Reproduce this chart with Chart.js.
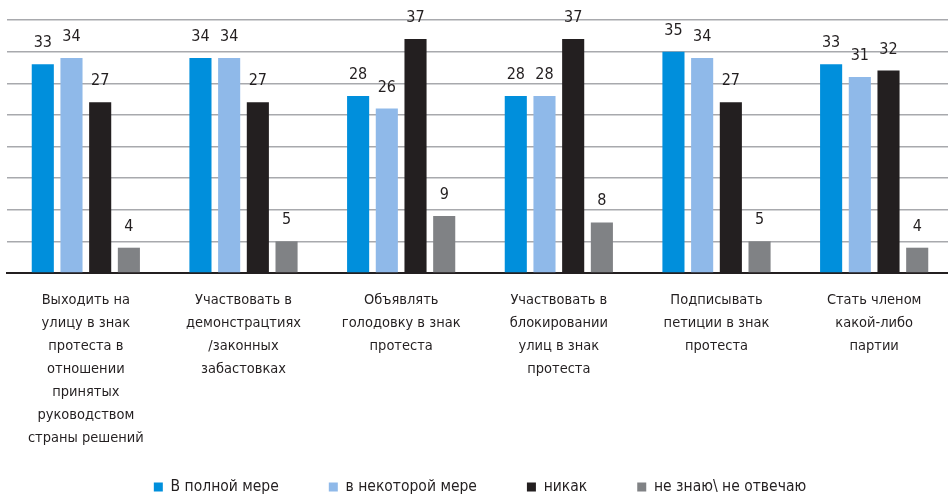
<!DOCTYPE html>
<html>
<head>
<meta charset="utf-8">
<script src="https://cdn.jsdelivr.net/npm/chart.js@4/dist/chart.umd.min.js"></script>
<style>
  html, body { margin: 0; padding: 0; background: #ffffff; overflow: hidden; }
  #wrap { position: relative; width: 953px; height: 498px; }
</style>
</head>
<body>
<div id="wrap"><canvas id="c"></canvas></div>
<script>
const categories = [
  ["Выходить на", "улицу в знак", "протеста в", "отношении", "принятых", "руководством", "страны решений"],
  ["Участвовать в", "демонстрацтиях", "/законных", "забастовках"],
  ["Объявлять", "голодовку в знак", "протеста"],
  ["Участвовать в", "блокировании", "улиц в знак", "протеста"],
  ["Подписывать", "петиции в знак", "протеста"],
  ["Стать членом", "какой-либо", "партии"]
];
const seriesNames = ["В полной мере", "в некоторой мере", "никак", "не знаю\\ не отвечаю"];
const fullyValues = [33, 34, 28, 28, 35, 33];
const somewhatValues = [34, 34, 26, 28, 34, 31];
const notAtAllValues = [27, 27, 37, 37, 27, 32];
const dontKnowValues = [4, 5, 9, 8, 5, 4];
const yTicks = [0, 5, 10, 15, 20, 25, 30, 35, 40];

const FONT = "'DejaVu Sans Condensed', 'Liberation Sans Narrow', 'Roboto', sans-serif";
const TEXT = '#231f20';
const colors = ['#008fdc', '#8fb9e9', '#231f20', '#808285'];

const LEGEND_PAD = 50;
const LEGEND_H = 48;
const LEGEND_ITEM_TOP = 479.25;
const XAXIS_H = 177;

const valueLabels = {
  id: 'valueLabels',
  afterDatasetsDraw(chart) {
    const ctx = chart.ctx;
    ctx.save();
    ctx.font = '16px ' + FONT;
    ctx.fillStyle = TEXT;
    ctx.textAlign = 'center';
    ctx.textBaseline = 'alphabetic';
    chart.data.datasets.forEach((ds, i) => {
      const meta = chart.getDatasetMeta(i);
      meta.data.forEach((el, j) => {
        ctx.fillText(String(ds.data[j]), el.x, el.y - 17);
      });
    });
    ctx.restore();
  }
};

const legendPlace = {
  id: 'legendPlace',
  beforeUpdate(chart) {
    const lg = chart.legend;
    if (lg && !lg._patched) {
      const orig = lg.fit.bind(lg);
      lg.fit = function () { orig(); this.height = LEGEND_H; };
      lg._patched = true;
    }
  },
  afterLayout(chart) {
    const lg = chart.legend;
    if (lg) {
      lg.top = LEGEND_ITEM_TOP - LEGEND_PAD;
      lg.height = lg.bottom - lg.top;
    }
  }
};

const values = [fullyValues, somewhatValues, notAtAllValues, dontKnowValues];
new Chart(document.getElementById('c'), {
  type: 'bar',
  data: {
    labels: categories,
    datasets: seriesNames.map((n, i) => ({
      label: n,
      data: values[i],
      backgroundColor: colors[i],
      borderWidth: 0,
      barPercentage: 0.77,
      categoryPercentage: 0.728
    }))
  },
  options: {
    responsive: true,
    maintainAspectRatio: false,
    animation: false,
    layout: { padding: { left: 7, right: 0, top: 20, bottom: 0 } },
    plugins: {
      legend: {
        position: 'bottom',
        labels: {
          boxWidth: 9, boxHeight: 9, padding: LEGEND_PAD,
          color: TEXT,
          font: { family: FONT, size: 15.5 }
        }
      },
      tooltip: { enabled: false }
    },
    scales: {
      x: {
        afterFit(axis) { axis.height = XAXIS_H; },
        grid: { display: false, drawTicks: false },
        border: { display: true, color: TEXT, width: 2 },
        ticks: {
          color: TEXT, padding: 16, maxRotation: 0, autoSkip: false,
          font: { family: FONT, size: 14.5, lineHeight: 1.586 }
        }
      },
      y: {
        min: 0, max: 40,
        afterBuildTicks(axis) { axis.ticks = yTicks.map(v => ({ value: v })); },
        grid: { color: '#a8a9ad', lineWidth: 1.5, drawTicks: false },
        border: { display: false },
        ticks: { display: false }
      }
    }
  },
  plugins: [valueLabels, legendPlace]
});
</script>
</body>
</html>
